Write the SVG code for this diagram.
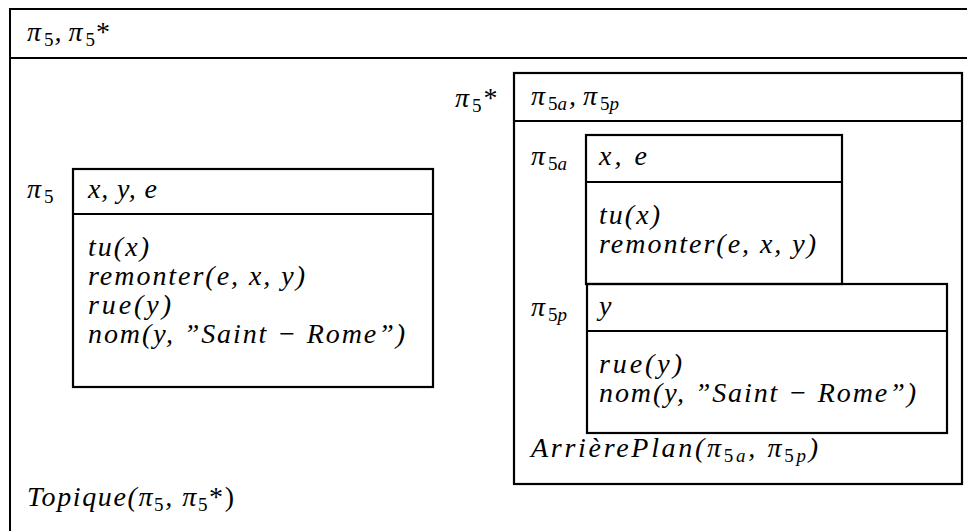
<svg xmlns="http://www.w3.org/2000/svg" width="967" height="531" viewBox="0 0 967 531" font-family="'Liberation Serif', 'Times New Roman', serif">
<style>
.box{fill:none;stroke:#000;stroke-width:2.2}
.outer{fill:none;stroke:#000;stroke-width:2}
.sep{stroke:#000;stroke-width:2.2}
text{font-size:28px;font-style:italic;fill:#000}
.up{font-style:normal}
.sub{font-size:19px}
</style>
<rect width="967" height="531" fill="#fff"/>
<g id="outer">
<rect class="outer" x="10" y="9" width="1000" height="600"/>
<line class="sep" x1="10" y1="58" x2="967" y2="58"/>
<text x="27" y="41">π<tspan class="sub up" dx="3" dy="5">5</tspan><tspan dx="1" dy="-5">, π</tspan><tspan class="sub up" dx="3" dy="5">5</tspan><tspan class="up" dx="1" dy="-5">*</tspan></text>
<text x="27" y="506" textLength="207" lengthAdjust="spacing">Topique(π<tspan class="sub up" dy="5">5</tspan><tspan dy="-5">, π</tspan><tspan class="sub up" dy="5">5</tspan><tspan class="up" dy="-5">*)</tspan></text>
</g>
<g id="pi5">
<text x="27" y="198">π<tspan class="sub up" dx="3" dy="5">5</tspan></text>
<rect class="box" x="73" y="169" width="360" height="218"/>
<line class="sep" x1="73" y1="214" x2="433" y2="214"/>
<text x="88" y="198" textLength="69" lengthAdjust="spacing">x, y, e</text>
<text x="88" y="256" textLength="61" lengthAdjust="spacing">tu(x)</text>
<text x="88" y="285" textLength="217" lengthAdjust="spacing">remonter(e, x, y)</text>
<text x="88" y="314" textLength="83" lengthAdjust="spacing">rue(y)</text>
<text x="88" y="343" textLength="317" lengthAdjust="spacing">nom(y, ”Saint − Rome”)</text>
</g>
<g id="pi5star">
<text x="455" y="107">π<tspan class="sub up" dx="3" dy="5">5</tspan><tspan class="up" dx="2" dy="-5">*</tspan></text>
<rect class="box" x="514" y="73" width="448" height="411"/>
<line class="sep" x1="514" y1="121" x2="962" y2="121"/>
<text x="531" y="105">π<tspan class="sub" dx="3" dy="5"><tspan class="up">5</tspan>a</tspan><tspan dx="2" dy="-5">, π</tspan><tspan class="sub" dx="3" dy="5"><tspan class="up">5</tspan>p</tspan></text>
<text x="531" y="457" textLength="287" lengthAdjust="spacing">ArrièrePlan(π<tspan class="sub" dy="5"><tspan class="up">5</tspan>a</tspan><tspan dy="-5">, π</tspan><tspan class="sub" dy="5"><tspan class="up">5</tspan>p</tspan><tspan dy="-5">)</tspan></text>
</g>
<g id="pi5a">
<text x="531" y="165">π<tspan class="sub" dx="3" dy="5"><tspan class="up">5</tspan>a</tspan></text>
<rect class="box" x="586" y="135" width="256" height="149"/>
<line class="sep" x1="586" y1="182" x2="842" y2="182"/>
<text x="599" y="165" textLength="48" lengthAdjust="spacing">x, e</text>
<text x="599" y="224" textLength="61" lengthAdjust="spacing">tu(x)</text>
<text x="599" y="253" textLength="217" lengthAdjust="spacing">remonter(e, x, y)</text>
</g>
<g id="pi5p">
<text x="531" y="316">π<tspan class="sub" dx="3" dy="5"><tspan class="up">5</tspan>p</tspan></text>
<rect class="box" x="587" y="284" width="360" height="149"/>
<line class="sep" x1="587" y1="331" x2="947" y2="331"/>
<text x="599" y="315">y</text>
<text x="599" y="373" textLength="83" lengthAdjust="spacing">rue(y)</text>
<text x="599" y="402" textLength="317" lengthAdjust="spacing">nom(y, ”Saint − Rome”)</text>
</g>
</svg>
